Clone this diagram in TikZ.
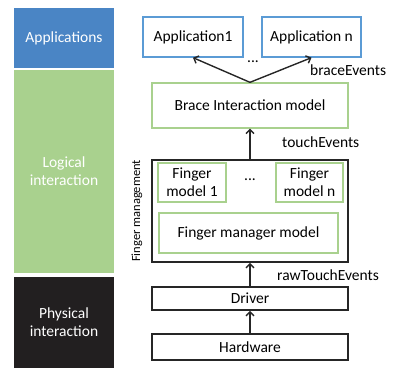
\documentclass[tikz,border=0pt]{standalone}
\usepackage{fontspec}
\setmainfont{Carlito}
\usetikzlibrary{arrows.meta}

\definecolor{appblue}{HTML}{4A85C5}
\definecolor{appline}{HTML}{5B9BD5}
\definecolor{logicgreen}{HTML}{A9D18E}
\definecolor{physblack}{HTML}{221F20}

\begin{document}
\begin{tikzpicture}[x=1pt,y=-1pt,font=\fontsize{15.5}{18}\selectfont,
  every node/.style={inner sep=0pt,align=center},
  layer/.style={minimum width=100pt,text=white},
  appbox/.style={draw=appline,line width=1.3pt,minimum height=40pt},
  modelbox/.style={draw=logicgreen,line width=1.3pt},
  sysbox/.style={draw=black!85,line width=1.6pt,minimum width=196pt},
  flow/.style={-{Straight Barb[length=4pt,width=8pt]},line width=1.4pt,black!85}]

  \useasboundingbox (0,0) rectangle (396,369);

  % Layers on the left
  \node[layer,fill=appblue,minimum height=60pt] (apps) at (64,38) {Applications};
  \node[layer,fill=logicgreen,minimum height=203pt] (logical) at (64,171.5) {Logical\\interaction};
  \node[layer,fill=physblack,minimum height=91pt] (physical) at (64,322.5) {Physical\\interaction};

  % Specification of boxes
  \node[appbox,minimum width=100pt] (app1) at (193,37) {Application1};
  \node[appbox,minimum width=99pt] (appn) at (311.5,37) {Application n};
  \node[modelbox,minimum width=196pt,minimum height=45pt] (brace) at (250,105.5) {Brace Interaction model};
  \node[sysbox,minimum height=102pt] (fmgmt) at (250,211) {};
  \node[modelbox,minimum width=68pt,minimum height=39pt] (fm1) at (192,182.5) {Finger\\model 1};
  \node[modelbox,minimum width=67pt,minimum height=39pt] (fmn) at (309.5,182.5) {Finger\\model n};
  \node[modelbox,minimum width=179pt,minimum height=40pt] (fmm) at (248.5,233) {Finger manager model};
  \node[sysbox,minimum height=23pt] (driver) at (250,298.5) {Driver};
  \node[sysbox,minimum height=26pt] (hw) at (250,347) {Hardware};

  % Labels
  \node (dots1) at (253,62) {...};
  \node (dots2) at (250,180) {...};
  \node[rotate=90,font=\fontsize{12.5}{14}\selectfont] (fmlabel) at (137,211) {Finger management};
  \node[anchor=west] (braceev) at (310,70) {braceEvents};
  \node[anchor=west] (touchev) at (282,142) {touchEvents};
  \node[anchor=west] (rawev) at (277,275) {rawTouchEvents};

  % Connectors
  \draw[flow] (brace.north) to (app1.south);
  \draw[flow] (brace.north) to (appn.south);
  \draw[flow] (fmgmt.north) to (brace.south);
  \draw[flow] (driver.north) to (fmgmt.south);
  \draw[flow] (hw.north) to (driver.south);

\end{tikzpicture}
\end{document}
